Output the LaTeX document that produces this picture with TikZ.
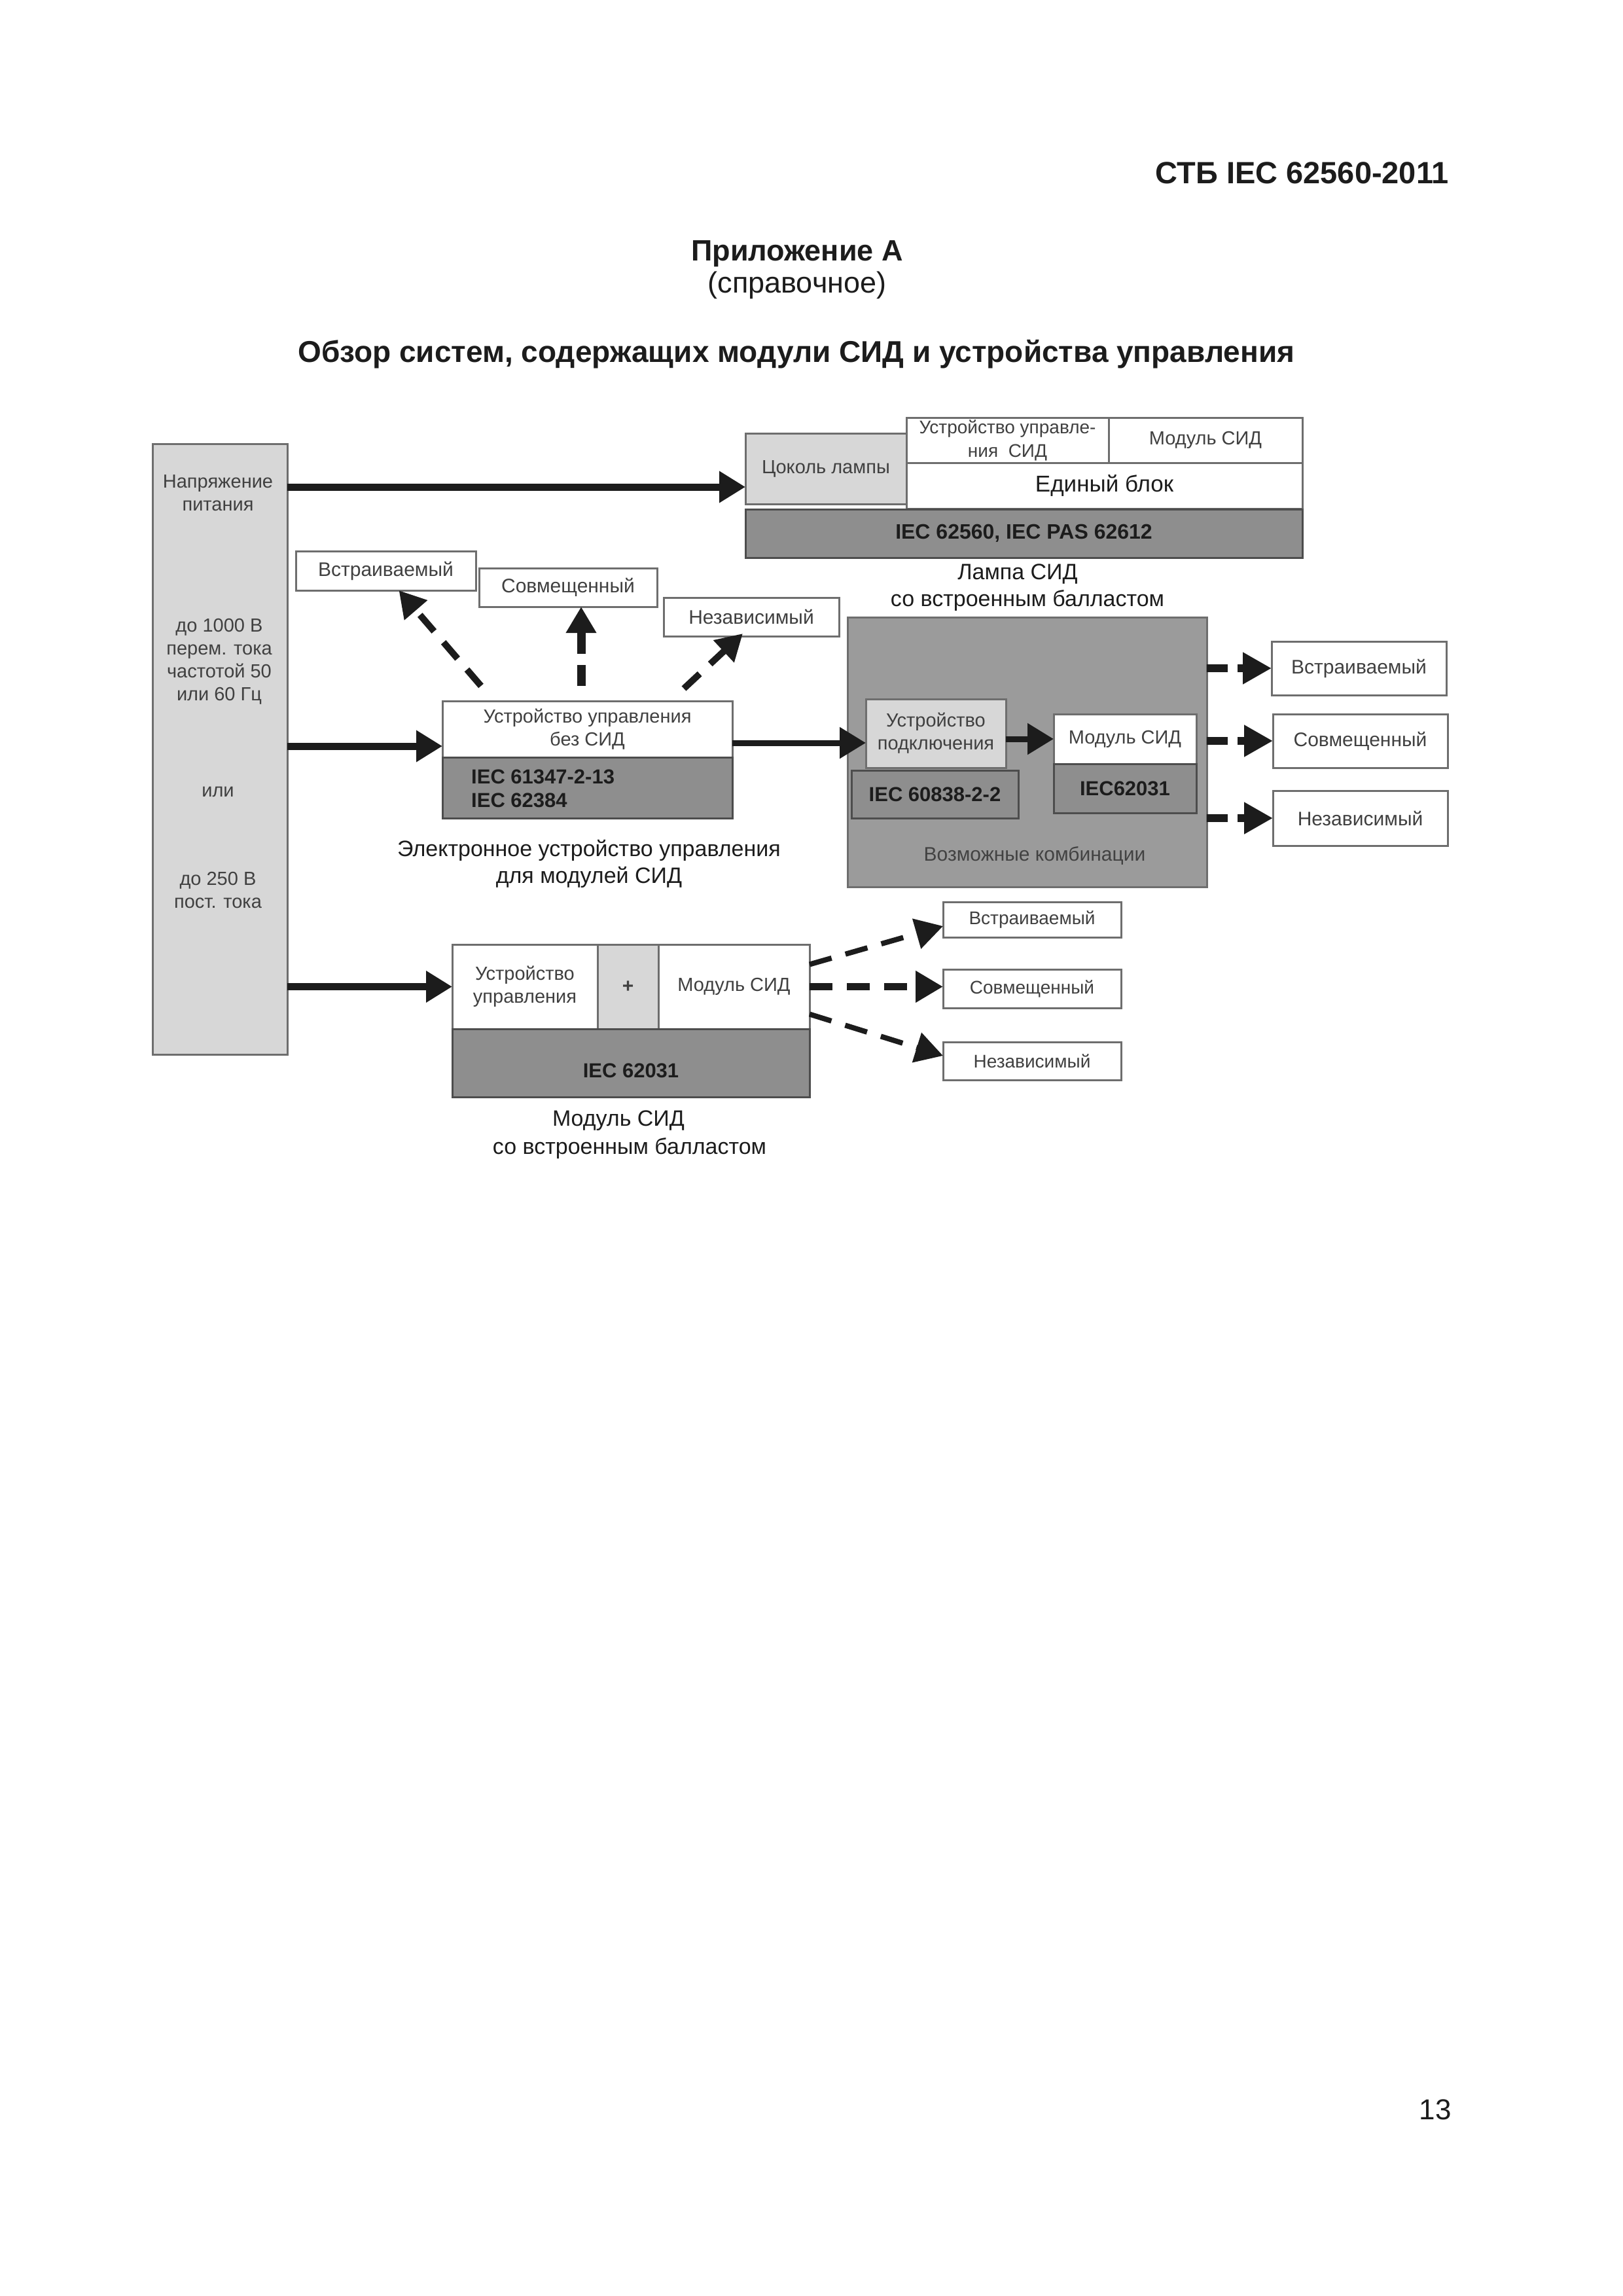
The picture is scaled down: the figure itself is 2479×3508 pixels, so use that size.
\documentclass[tikz,border=0pt]{standalone}
\usepackage{fontspec}
\setmainfont{Liberation Sans}
\usetikzlibrary{arrows.meta}
\definecolor{lgray}{HTML}{D7D7D7}
\definecolor{dgray}{HTML}{8E8E8E}
\definecolor{mgray}{HTML}{9B9B9B}
\definecolor{edgec}{HTML}{6E6E6E}
\definecolor{btext}{HTML}{404040}
\definecolor{ink}{HTML}{1C1C1C}
\tikzset{
  fs/.style 2 args={font=\fontsize{#1}{#2}\selectfont},
  fb/.style 2 args={font=\fontsize{#1}{#2}\selectfont\bfseries},
  box/.style={draw=edgec, line width=3pt, fill=white, inner sep=0pt, outer sep=0pt, align=center, text=btext, fs={29}{35}},
  lbox/.style={box, fill=lgray},
  dbox/.style={box, fill=dgray, draw=edgec!70!black, text=ink, fb={31}{37}},
  lbl/.style={inner sep=0pt, align=center, text=ink, fs={34}{41}},
  txt/.style={inner sep=0pt, align=center, text=btext, fs={29}{35}},
  solidarrow/.style={line width=11pt, draw=ink, -{Triangle[length=40pt,width=46pt]}},
  dasharrow/.style={line width=10pt, draw=ink, dash pattern=on 33pt off 22pt, -{Triangle[length=40pt,width=44pt]}},
  shortdash/.style={line width=12pt, draw=ink, dash pattern=on 32pt off 15pt, -{Triangle[length=44pt,width=46pt]}},
  fandash/.style={line width=8pt, draw=ink, dash pattern=on 35pt off 22pt, -{Triangle[length=42pt,width=46pt]}},
}
\begin{document}
\begin{tikzpicture}[x=1pt,y=-1pt]
\path[use as bounding box, fill=white] (0,0) rectangle (2479,3508);

% header
\node[anchor=base east, inner sep=0pt, text=ink, fb={47}{56}] (hdr) at (2214,280) {СТБ IEC 62560-2011};
\node[anchor=base, inner sep=0pt, text=ink, fb={45}{54}] (app) at (1218,398) {Приложение А};
\node[anchor=base, inner sep=0pt, text=ink, fs={45}{54}] (ref) at (1218,447) {(справочное)};
\node[anchor=base, inner sep=0pt, text=ink, fb={46}{55}] (ttl) at (1217,553) {Обзор систем, содержащих модули СИД и устройства управления};
\node[anchor=base east, inner sep=0pt, text=ink, fs={44}{52}] (pg) at (2218,3238) {13};

% supply box
\node[lbox, minimum width=206pt, minimum height=933pt] (supply) at (336,1144.5) {};
\node[txt] (s1) at (333,753) {Напряжение\\питания};
\node[txt] (s2) at (335,1011) {до 1000 В\\перем. тока\\частотой 50\\или 60 Гц};
\node[txt] (s3) at (333,1210) {или};
\node[txt] (s4) at (333,1360) {до 250 В\\пост. тока};

% lamp block
\node[lbox, minimum width=246pt, minimum height=108pt] (cokol) at (1262,716) {Цоколь лампы};
\node[box, minimum width=309pt, minimum height=69pt, fs={28}{36}] (ustr0) at (1539.5,672.5) {Устройство управле-\\ния\ \ СИД};
\node[box, minimum width=296pt, minimum height=69pt] (mod0) at (1842,672.5) {Модуль СИД};
\node[box, minimum width=605pt, minimum height=70pt, text=ink, fs={35}{42}] (edin) at (1687.5,742) {Единый блок};
\node[dbox, minimum width=851pt, minimum height=74pt, fb={32}{38}] (iec0) at (1564.5,815) {IEC 62560, IEC PAS 62612};
\node[lbl] (lamp1) at (1555,877) {Лампа СИД};
\node[lbl] (lamp2) at (1570,918) {со встроенным балластом};

% control gear top options
\node[box, minimum width=275pt, minimum height=60pt, fs={30}{36}] (vstr) at (589.5,872) {Встраиваемый};
\node[box, minimum width=272pt, minimum height=59pt, fs={30}{36}] (sovm) at (868,897.5) {Совмещенный};
\node[box, minimum width=268pt, minimum height=59pt, fs={30}{36}] (nez) at (1148,942.5) {Независимый};

% control gear
\node[box, minimum width=443pt, minimum height=86pt] (ctrl) at (897.5,1114) {Устройство управления\\без СИД};
\node[dbox, minimum width=443pt, minimum height=93pt] (iec1) at (897.5,1203.5) {};
\node[anchor=west, inner sep=0pt, align=left, text=ink, fb={31}{36}] (iec1t) at (720,1205) {IEC 61347-2-13\\IEC 62384};
\node[lbl] (el1) at (900,1320) {Электронное устройство управления\\для модулей СИД};

% possible combinations
\node[box, fill=mgray, draw=edgec, minimum width=549pt, minimum height=412pt] (big) at (1569.5,1149) {};
\node[lbox, minimum width=214pt, minimum height=105pt] (podkl) at (1430,1120.5) {Устройство\\подключения};
\node[dbox, minimum width=255pt, minimum height=73pt] (iec2) at (1428.5,1213.5) {IEC 60838-2-2};
\node[box, minimum width=218pt, minimum height=76pt] (mod1) at (1719,1129) {Модуль СИД};
\node[dbox, minimum width=218pt, minimum height=75pt] (iec3) at (1719,1204.5) {IEC62031};
\node[txt, text=edgec!60!black, fs={30}{36}] (komb) at (1581,1307) {Возможные комбинации};

% right options
\node[box, minimum width=267pt, minimum height=82pt, fs={30}{36}] (rv) at (2076.5,1021) {Встраиваемый};
\node[box, minimum width=267pt, minimum height=82pt, fs={30}{36}] (rs) at (2078.5,1132) {Совмещенный};
\node[box, minimum width=267pt, minimum height=84pt, fs={30}{36}] (rn) at (2078.5,1250) {Независимый};

% LED module with integral control gear
\node[box, minimum width=222pt, minimum height=129pt] (upr2) at (802,1507.5) {Устройство\\управления};
\node[lbox, minimum width=93pt, minimum height=129pt, fb={30}{36}] (plus) at (959.5,1507.5) {+};
\node[box, minimum width=231pt, minimum height=129pt] (mod2) at (1121.5,1507.5) {Модуль СИД};
\node[dbox, minimum width=546pt, minimum height=104pt] (iec4) at (964,1624) {};
\node[inner sep=0pt, text=ink, fb={31}{36}] (iec4t) at (964,1636) {IEC 62031};
\node[lbl] (modl1) at (945,1712) {Модуль СИД};
\node[lbl] (modl2) at (962,1755) {со встроенным балластом};

% bottom right options
\node[box, minimum width=272pt, minimum height=54pt, fs={28}{34}] (bv) at (1577,1405) {Встраиваемый};
\node[box, minimum width=272pt, minimum height=59pt, fs={28}{34}] (bs) at (1577,1510.5) {Совмещенный};
\node[box, minimum width=272pt, minimum height=58pt, fs={28}{34}] (bn) at (1577,1621) {Независимый};

% solid arrows
\coordinate (a1) at ([yshift=-28pt]cokol.west);
\draw[solidarrow] (a1 -| supply.east) -- (a1);
\coordinate (a2) at ([yshift=-26pt]ctrl.west);
\draw[solidarrow] (a2 -| supply.east) -- (a2);
\coordinate (a3) at ([yshift=-21pt]ctrl.east);
\draw[solidarrow, line width=9pt] (a3) -- (a3 -| podkl.west);
\draw[solidarrow, line width=9pt] (mod1.west -| podkl.east) -- (mod1.west);
\draw[solidarrow] (upr2.west -| supply.east) -- (upr2.west);

% dashed arrows from control gear
\coordinate (d1) at (735,1048);
\coordinate (d2) at (888,1048);
\coordinate (d3) at (1045,1052);
\draw[dasharrow] (d1) -- ([xshift=20pt]vstr.south);
\draw[dasharrow, line width=13pt, dash pattern=on 32pt off 17pt] (d2) -- ([xshift=20pt]sovm.south);
\draw[dasharrow] (d3) -- ([xshift=-13pt,yshift=4pt]nez.south);

% dashed arrows from combinations
\draw[shortdash] (rv.west -| big.east) -- (rv.west);
\draw[shortdash] (rs.west -| big.east) -- (rs.west);
\draw[shortdash] (rn.west -| big.east) -- (rn.west);

% dashed arrows from LED module
\draw[fandash] ([yshift=34pt]mod2.east) -- ([yshift=-10pt]bv.west);
\draw[fandash, line width=11pt] (mod2.east) -- (mod2.east -| bs.west);
\draw[fandash] ([yshift=-42pt]mod2.east) -- ([yshift=8pt]bn.west);
\end{tikzpicture}
\end{document}
